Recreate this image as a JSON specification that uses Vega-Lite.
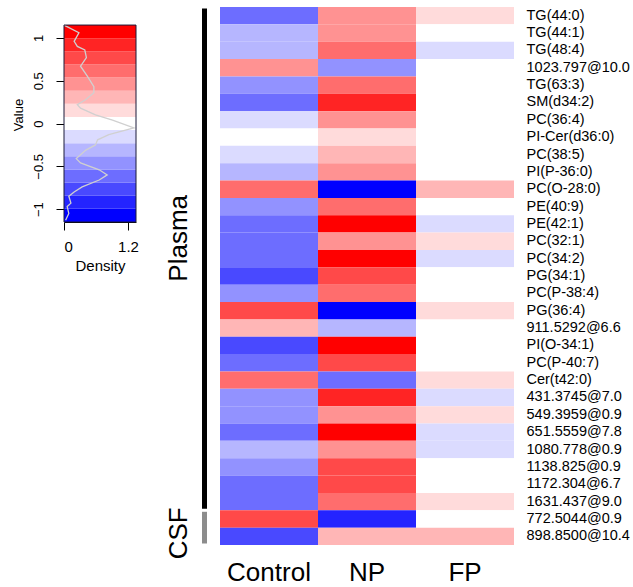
{
  "$schema": "https://vega.github.io/schema/vega-lite/v6.json",
  "padding": {"left": 11, "top": 7, "right": 0, "bottom": 0},
  "background": "white",
  "config": {
    "font": "Liberation Sans",
    "view": {"stroke": null},
    "axis": {"labelColor": "black", "titleColor": "black", "labelFont": "Liberation Sans", "titleFont": "Liberation Sans", "titleFontWeight": "normal", "grid": false}
  },
  "datasets": {
    "key": [
      {"lo": -1.15, "hi": -0.9967, "mid": -1.0733},
      {"lo": -0.9967, "hi": -0.8433, "mid": -0.92},
      {"lo": -0.8433, "hi": -0.69, "mid": -0.7667},
      {"lo": -0.69, "hi": -0.5367, "mid": -0.6133},
      {"lo": -0.5367, "hi": -0.3833, "mid": -0.46},
      {"lo": -0.3833, "hi": -0.23, "mid": -0.3067},
      {"lo": -0.23, "hi": -0.0767, "mid": -0.1533},
      {"lo": -0.0767, "hi": 0.0767, "mid": 0},
      {"lo": 0.0767, "hi": 0.23, "mid": 0.1533},
      {"lo": 0.23, "hi": 0.3833, "mid": 0.3067},
      {"lo": 0.3833, "hi": 0.5367, "mid": 0.46},
      {"lo": 0.5367, "hi": 0.69, "mid": 0.6133},
      {"lo": 0.69, "hi": 0.8433, "mid": 0.7667},
      {"lo": 0.8433, "hi": 0.9967, "mid": 0.92},
      {"lo": 0.9967, "hi": 1.15, "mid": 1.0733}
    ],
    "box": [{"x0": 0, "x1": 1.35, "y0": -1.15, "y1": 1.15}],
    "dens": [
      {"d": 0.0, "v": 1.15}, {"d": 0.28, "v": 1.06}, {"d": 0.19, "v": 0.96}, {"d": 0.25, "v": 0.9},
      {"d": 0.39, "v": 0.86}, {"d": 0.42, "v": 0.77}, {"d": 0.31, "v": 0.67}, {"d": 0.44, "v": 0.55},
      {"d": 0.56, "v": 0.43}, {"d": 0.56, "v": 0.36}, {"d": 0.41, "v": 0.28}, {"d": 0.25, "v": 0.22},
      {"d": 0.31, "v": 0.18}, {"d": 0.59, "v": 0.1}, {"d": 0.91, "v": 0.04}, {"d": 1.31, "v": -0.05},
      {"d": 0.84, "v": -0.13}, {"d": 0.63, "v": -0.19}, {"d": 0.59, "v": -0.25}, {"d": 0.41, "v": -0.31},
      {"d": 0.23, "v": -0.41}, {"d": 0.31, "v": -0.46}, {"d": 0.66, "v": -0.54}, {"d": 0.81, "v": -0.6},
      {"d": 0.66, "v": -0.66}, {"d": 0.34, "v": -0.74}, {"d": 0.19, "v": -0.8}, {"d": 0.09, "v": -0.85},
      {"d": 0.13, "v": -0.93}, {"d": 0.06, "v": -0.97}, {"d": 0.09, "v": -1.05}, {"d": 0.03, "v": -1.13}
    ],
    "groups": [
      {"grp": "Plasma", "from": 0, "to": 29},
      {"grp": "CSF", "from": 29, "to": 31}
    ],
    "cells": [
      {"m": "TG(44:0)", "g": "Control", "v": -0.6}, {"m": "TG(44:0)", "g": "NP", "v": 0.45}, {"m": "TG(44:0)", "g": "FP", "v": 0.15},
      {"m": "TG(44:1)", "g": "Control", "v": -0.3}, {"m": "TG(44:1)", "g": "NP", "v": 0.45}, {"m": "TG(44:1)", "g": "FP", "v": 0},
      {"m": "TG(48:4)", "g": "Control", "v": -0.3}, {"m": "TG(48:4)", "g": "NP", "v": 0.6}, {"m": "TG(48:4)", "g": "FP", "v": -0.15},
      {"m": "1023.797@10.0", "g": "Control", "v": 0.45}, {"m": "1023.797@10.0", "g": "NP", "v": -0.45}, {"m": "1023.797@10.0", "g": "FP", "v": 0},
      {"m": "TG(63:3)", "g": "Control", "v": -0.45}, {"m": "TG(63:3)", "g": "NP", "v": 0.6}, {"m": "TG(63:3)", "g": "FP", "v": 0},
      {"m": "SM(d34:2)", "g": "Control", "v": -0.6}, {"m": "SM(d34:2)", "g": "NP", "v": 0.9}, {"m": "SM(d34:2)", "g": "FP", "v": 0},
      {"m": "PC(36:4)", "g": "Control", "v": -0.15}, {"m": "PC(36:4)", "g": "NP", "v": 0.45}, {"m": "PC(36:4)", "g": "FP", "v": 0},
      {"m": "PI-Cer(d36:0)", "g": "Control", "v": 0}, {"m": "PI-Cer(d36:0)", "g": "NP", "v": 0.15}, {"m": "PI-Cer(d36:0)", "g": "FP", "v": 0},
      {"m": "PC(38:5)", "g": "Control", "v": -0.15}, {"m": "PC(38:5)", "g": "NP", "v": 0.3}, {"m": "PC(38:5)", "g": "FP", "v": 0},
      {"m": "PI(P-36:0)", "g": "Control", "v": -0.3}, {"m": "PI(P-36:0)", "g": "NP", "v": 0.45}, {"m": "PI(P-36:0)", "g": "FP", "v": 0},
      {"m": "PC(O-28:0)", "g": "Control", "v": 0.6}, {"m": "PC(O-28:0)", "g": "NP", "v": -1.05}, {"m": "PC(O-28:0)", "g": "FP", "v": 0.3},
      {"m": "PE(40:9)", "g": "Control", "v": -0.45}, {"m": "PE(40:9)", "g": "NP", "v": 0.6}, {"m": "PE(40:9)", "g": "FP", "v": 0},
      {"m": "PE(42:1)", "g": "Control", "v": -0.6}, {"m": "PE(42:1)", "g": "NP", "v": 1.05}, {"m": "PE(42:1)", "g": "FP", "v": -0.15},
      {"m": "PC(32:1)", "g": "Control", "v": -0.6}, {"m": "PC(32:1)", "g": "NP", "v": 0.45}, {"m": "PC(32:1)", "g": "FP", "v": 0.15},
      {"m": "PC(34:2)", "g": "Control", "v": -0.6}, {"m": "PC(34:2)", "g": "NP", "v": 1.05}, {"m": "PC(34:2)", "g": "FP", "v": -0.15},
      {"m": "PG(34:1)", "g": "Control", "v": -0.75}, {"m": "PG(34:1)", "g": "NP", "v": 0.75}, {"m": "PG(34:1)", "g": "FP", "v": 0},
      {"m": "PC(P-38:4)", "g": "Control", "v": -0.45}, {"m": "PC(P-38:4)", "g": "NP", "v": 0.6}, {"m": "PC(P-38:4)", "g": "FP", "v": 0},
      {"m": "PG(36:4)", "g": "Control", "v": 0.75}, {"m": "PG(36:4)", "g": "NP", "v": -1.05}, {"m": "PG(36:4)", "g": "FP", "v": 0.15},
      {"m": "911.5292@6.6", "g": "Control", "v": 0.3}, {"m": "911.5292@6.6", "g": "NP", "v": -0.3}, {"m": "911.5292@6.6", "g": "FP", "v": 0},
      {"m": "PI(O-34:1)", "g": "Control", "v": -0.75}, {"m": "PI(O-34:1)", "g": "NP", "v": 1.05}, {"m": "PI(O-34:1)", "g": "FP", "v": 0},
      {"m": "PC(P-40:7)", "g": "Control", "v": -0.6}, {"m": "PC(P-40:7)", "g": "NP", "v": 0.75}, {"m": "PC(P-40:7)", "g": "FP", "v": 0},
      {"m": "Cer(t42:0)", "g": "Control", "v": 0.6}, {"m": "Cer(t42:0)", "g": "NP", "v": -0.6}, {"m": "Cer(t42:0)", "g": "FP", "v": 0.15},
      {"m": "431.3745@7.0", "g": "Control", "v": -0.45}, {"m": "431.3745@7.0", "g": "NP", "v": 0.9}, {"m": "431.3745@7.0", "g": "FP", "v": -0.15},
      {"m": "549.3959@0.9", "g": "Control", "v": -0.45}, {"m": "549.3959@0.9", "g": "NP", "v": 0.45}, {"m": "549.3959@0.9", "g": "FP", "v": 0.15},
      {"m": "651.5559@7.8", "g": "Control", "v": -0.6}, {"m": "651.5559@7.8", "g": "NP", "v": 1.05}, {"m": "651.5559@7.8", "g": "FP", "v": -0.15},
      {"m": "1080.778@0.9", "g": "Control", "v": -0.3}, {"m": "1080.778@0.9", "g": "NP", "v": 0.45}, {"m": "1080.778@0.9", "g": "FP", "v": -0.15},
      {"m": "1138.825@0.9", "g": "Control", "v": -0.45}, {"m": "1138.825@0.9", "g": "NP", "v": 0.75}, {"m": "1138.825@0.9", "g": "FP", "v": 0},
      {"m": "1172.304@6.7", "g": "Control", "v": -0.6}, {"m": "1172.304@6.7", "g": "NP", "v": 0.75}, {"m": "1172.304@6.7", "g": "FP", "v": 0},
      {"m": "1631.437@9.0", "g": "Control", "v": -0.6}, {"m": "1631.437@9.0", "g": "NP", "v": 0.6}, {"m": "1631.437@9.0", "g": "FP", "v": 0.15},
      {"m": "772.5044@0.9", "g": "Control", "v": 0.75}, {"m": "772.5044@0.9", "g": "NP", "v": -0.9}, {"m": "772.5044@0.9", "g": "FP", "v": 0},
      {"m": "898.8500@10.4", "g": "Control", "v": -0.75}, {"m": "898.8500@10.4", "g": "NP", "v": 0.3}, {"m": "898.8500@10.4", "g": "FP", "v": 0.3}
    ]
  },
  "spacing": 13,
  "resolve": {"scale": {"color": "independent"}},
  "hconcat": [
    {
      "spacing": 26,
      "resolve": {"scale": {"color": "independent"}},
      "hconcat": [
        {
          "width": 72,
          "height": 215,
          "layer": [
            {
              "data": {"name": "key"},
              "mark": {"type": "rect"},
              "encoding": {
                "y": {"field": "lo", "type": "quantitative",
                      "scale": {"domain": [-1.15, 1.3608], "nice": false, "zero": false},
                      "axis": {"values": [-1, -0.5, 0, 0.5, 1], "format": ".1~f", "title": "Value",
                               "labelAngle": -90, "labelAlign": "center", "labelBaseline": "alphabetic",
                               "labelFontSize": 13, "titleFontSize": 13, "tickSize": 8, "labelPadding": 14,
                               "titlePadding": 7, "tickColor": "black", "domain": false, "labelOverlap": false}},
                "y2": {"field": "hi"},
                "x": {"datum": 0, "type": "quantitative",
                      "scale": {"domain": [0, 1.35], "nice": false, "zero": false},
                      "axis": {"values": [0, 0.2, 0.4, 0.6, 0.8, 1.0, 1.2], "format": ".1~f",
                               "labelExpr": "(round(datum.value*10) % 6 == 0) ? datum.label : ''",
                               "title": "Density", "labelFontSize": 15, "titleFontSize": 15, "tickSize": 8,
                               "labelPadding": 9, "titlePadding": 4, "tickColor": "black", "domainColor": "black", "labelOverlap": false}},
                "x2": {"datum": 1.35},
                "color": {"field": "mid", "type": "quantitative",
                          "scale": {"type": "quantize", "domain": [-1.15, 1.15],
                                    "range": ["#0000FF", "#2424FF", "#4949FF", "#6D6DFF", "#9292FF", "#B6B6FF", "#DBDBFF", "#FFFFFF", "#FFDBDB", "#FFB6B6", "#FF9292", "#FF6D6D", "#FF4949", "#FF2424", "#FF0000"]},
                          "legend": null}
              }
            },
            {
              "data": {"name": "dens"},
              "mark": {"type": "line", "color": "#d0d0d0", "strokeWidth": 1.3, "interpolate": "linear"},
              "encoding": {
                "x": {"field": "d", "type": "quantitative"},
                "y": {"field": "v", "type": "quantitative"},
                "order": {"field": "v", "type": "quantitative"}
              }
            },
            {
              "data": {"name": "box"},
              "mark": {"type": "rect", "fill": null, "stroke": "#1b1b3a", "strokeWidth": 1},
              "encoding": {
                "x": {"field": "x0", "type": "quantitative"},
                "x2": {"field": "x1"},
                "y": {"field": "y0", "type": "quantitative"},
                "y2": {"field": "y1"}
              }
            }
          ]
        },
        {
          "width": 5,
          "height": 538,
          "data": {"name": "groups"},
          "mark": {"type": "rect", "yOffset": 1.5, "y2Offset": -1.5},
          "encoding": {
            "y": {"field": "from", "type": "quantitative",
                  "scale": {"domain": [0, 31], "reverse": true, "nice": false, "zero": false},
                  "axis": {"values": [13.3, 30.3], "labelExpr": "datum.value < 20 ? 'Plasma' : 'CSF'",
                           "labelAngle": -90, "labelAlign": "center", "labelBaseline": "alphabetic",
                           "labelFontSize": 26, "labelPadding": 16, "ticks": false, "domain": false,
                           "title": null, "labelOverlap": false}},
            "y2": {"field": "to"},
            "color": {"field": "grp", "type": "nominal",
                      "scale": {"domain": ["Plasma", "CSF"], "range": ["#000000", "#8c8c8c"]},
                      "legend": null}
          }
        }
      ]
    },
    {
      "width": 294,
      "height": 538,
      "data": {"name": "cells"},
      "mark": {"type": "rect"},
      "encoding": {
        "x": {"field": "g", "type": "nominal", "sort": ["Control", "NP", "FP"],
              "scale": {"paddingInner": 0, "paddingOuter": 0},
              "axis": {"orient": "bottom", "title": null, "labelAngle": 0, "labelFontSize": 26,
                       "ticks": false, "domain": false, "labelPadding": 14}},
        "y": {"field": "m", "type": "nominal", "sort": null,
              "scale": {"paddingInner": 0, "paddingOuter": 0},
              "axis": {"orient": "right", "title": null, "ticks": false, "domain": false,
                       "labelFontSize": 14.5, "labelPadding": 12}},
        "color": {"field": "v", "type": "quantitative",
                  "scale": {"type": "quantize", "domain": [-1.15, 1.15],
                            "range": ["#0000FF", "#2424FF", "#4949FF", "#6D6DFF", "#9292FF", "#B6B6FF", "#DBDBFF", "#FFFFFF", "#FFDBDB", "#FFB6B6", "#FF9292", "#FF6D6D", "#FF4949", "#FF2424", "#FF0000"]},
                  "legend": null}
      }
    }
  ]
}
